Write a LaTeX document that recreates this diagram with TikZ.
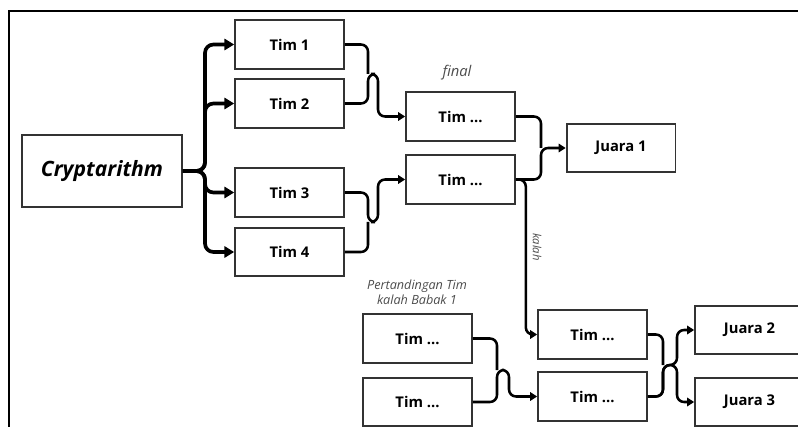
\documentclass[tikz,border=0pt]{standalone}
\usepackage{fontspec}
\setmainfont{Open Sans}
\usetikzlibrary{arrows.meta}
\begin{document}
\begin{tikzpicture}[x=0.025cm,y=-0.025cm,
    box/.style={draw=black!80,line width=1.3pt,minimum width=2.72cm,minimum height=1.22cm,inner sep=0pt,font=\bfseries\fontsize{10.5}{12}\selectfont},
    note/.style={text=black!70,font=\itshape\fontsize{9}{11}\selectfont,align=center,inner sep=0pt},
    fork/.style={line width=2.6pt,rounded corners=6pt,-{Triangle[length=7pt,width=8pt]}},
    link/.style={line width=1.8pt,rounded corners=5pt,-{Triangle[length=5pt,width=6pt]}},
    merge/.style={line width=1.8pt,rounded corners=5pt}]
    \useasboundingbox (0,0) rectangle (798,427);
    \clip (0,0) rectangle (798,427);
    \draw[line width=2pt] (9,440) -- (9,11) -- (810,11);

    \node[box,minimum width=4cm,minimum height=1.8cm,font=\bfseries\itshape\fontsize{15}{18}\selectfont] (cr) at (102,171) {Cryptarithm};
    \node[box] (t1) at (289.5,44.5) {Tim 1};
    \node[box] (t2) at (289.5,103.5) {Tim 2};
    \node[box] (t3) at (289.5,192.5) {Tim 3};
    \node[box] (t4) at (289.5,252) {Tim 4};
    \node[box] (f1) at (460.5,116.5) {Tim ...};
    \node[box] (f2) at (460.5,179.5) {Tim ...};
    \node[box] (j1) at (621,148) {Juara 1};
    \node[box] (b1) at (417.5,338.5) {Tim ...};
    \node[box] (b2) at (417.5,402) {Tim ...};
    \node[box] (l1) at (592.5,334.5) {Tim ...};
    \node[box] (l2) at (592.5,396.5) {Tim ...};
    \node[box] (j2) at (749.5,330) {Juara 2};
    \node[box] (j3) at (749.5,402) {Juara 3};

    \node[note,font=\itshape\fontsize{10.5}{12}\selectfont] (lfinal) at (457,73) {final};
    \node[note] (lbabak) at (417,292) {Pertandingan Tim\\kalah Babak 1};
    \node[note,rotate=-90,font=\itshape\fontsize{8}{10}\selectfont] (lkalah) at (537,247) {kalah};

    \coordinate (s0) at (205,171);
    \coordinate (m12) at (368,74);
    \coordinate (m34) at (368,222);
    \coordinate (m1) at (541,148);
    \coordinate (mb) at (497,370);
    \coordinate (ml) at (663,365);

    \foreach \t in {t1,t2,t3,t4}
        \draw[fork] (cr.east) -- (s0) |- (\t.west);
    \draw[merge] (t1.east) -| (m12);
    \draw[link] (t2.east) -| (m12) -- ++(10,0) |- (f1.west);
    \draw[merge] (t4.east) -| (m34);
    \draw[link] (t3.east) -| (m34) -- ++(10,0) |- (f2.west);
    \draw[merge] (f1.east) -| (m1);
    \draw[link] (f2.east) -| (m1) -- (j1.west);
    \draw[link] (f2.east) -- ++(10,0) |- (l1.west);
    \draw[merge] (b1.east) -| (mb);
    \draw[link] (b2.east) -| (mb) -- ++(12,0) |- (l2.west);
    \draw[merge] (l1.east) -| (ml);
    \foreach \j in {j2,j3}
        \draw[link] (l2.east) -| (ml) -- ++(14,0) |- (\j.west);
\end{tikzpicture}
\end{document}
